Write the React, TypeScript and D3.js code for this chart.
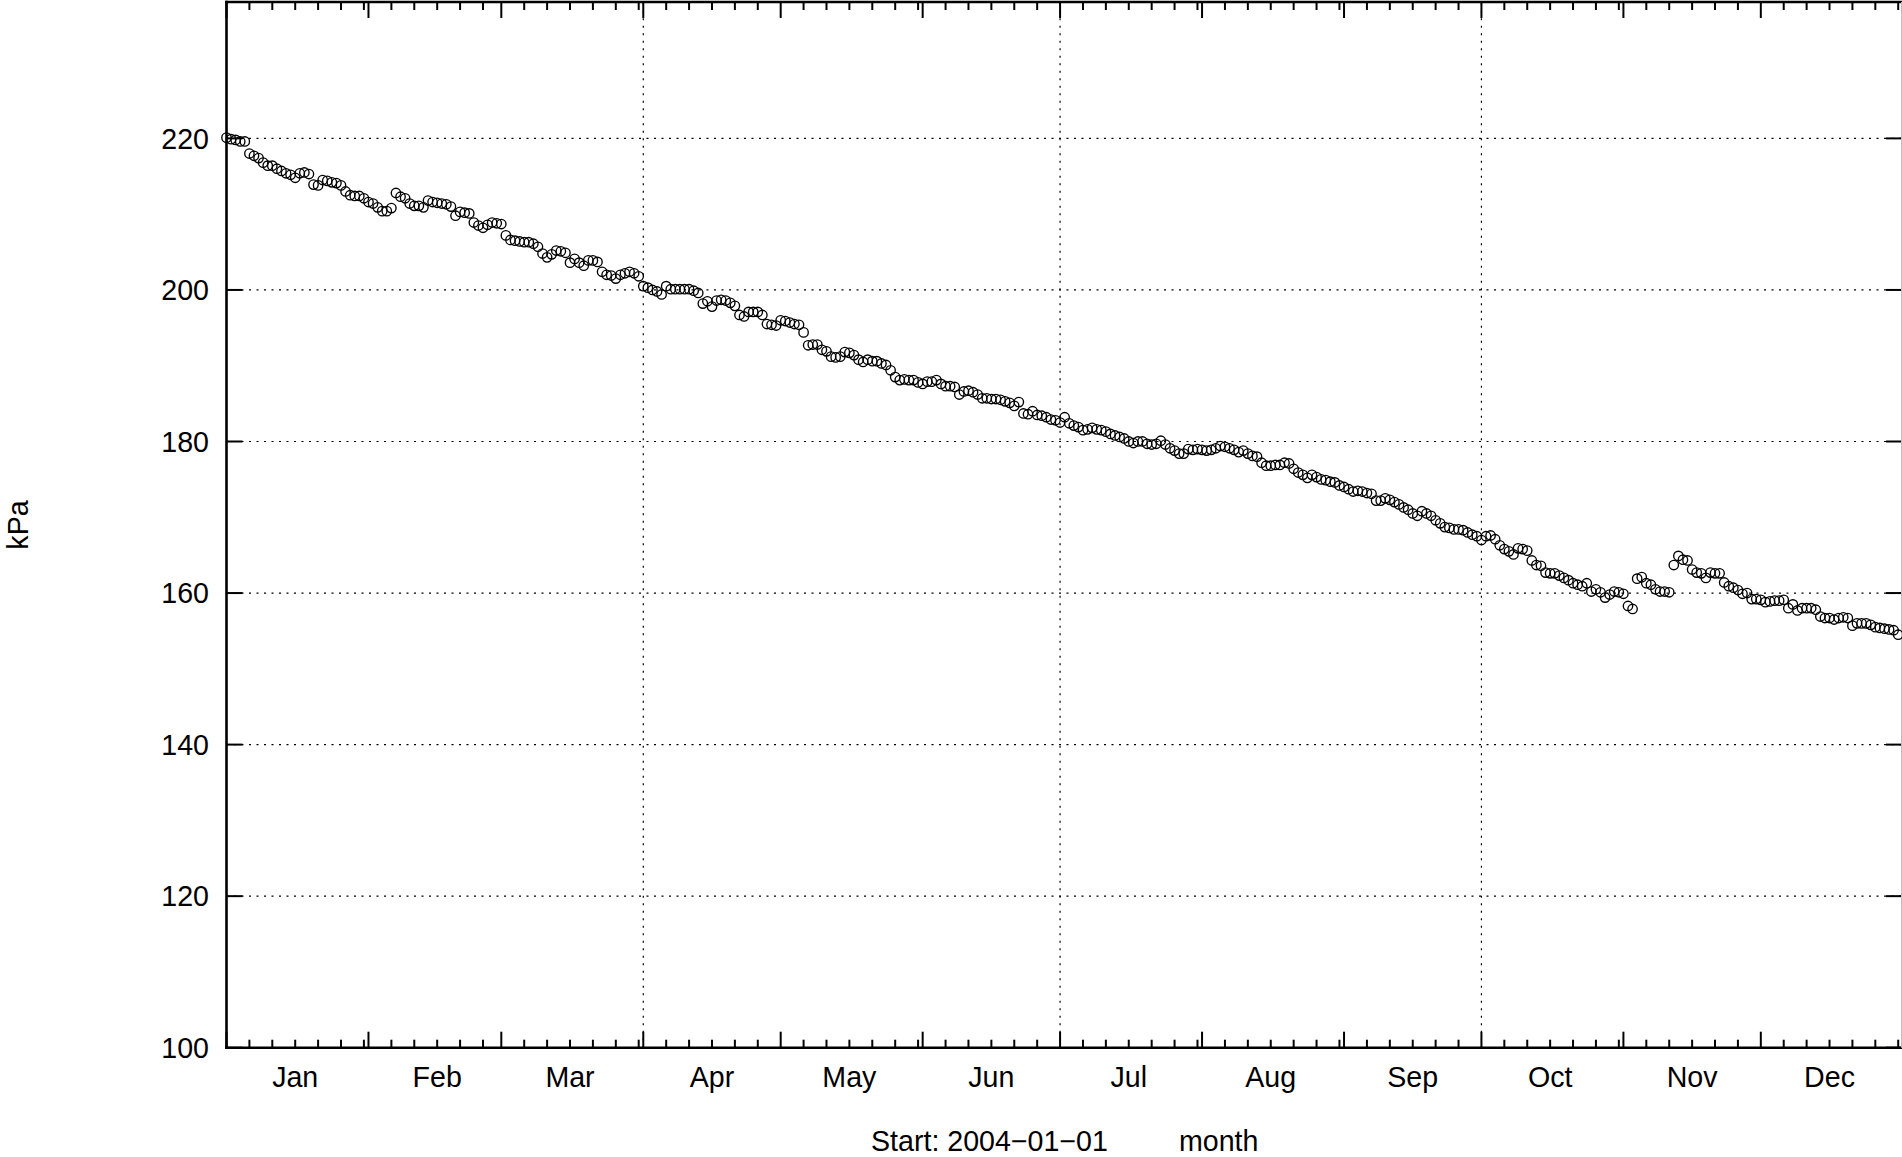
import React from 'react';
import * as d3 from 'd3';

const YEAR = 2004;
const monthNames = ['Jan', 'Feb', 'Mar', 'Apr', 'May', 'Jun', 'Jul', 'Aug', 'Sep', 'Oct', 'Nov', 'Dec'];
const yTicks = [100, 120, 140, 160, 180, 200, 220];
const gridMonths = [3, 6, 9];
const minorTickDays = [6, 11, 16, 21, 26, 31];
const yLabel = 'kPa';
const xTitle = 'Start: 2004\u221201\u221201';
const xUnit = 'month';

// daily values (kPa), one per day of each month
const janKPa = [220.1, 219.9, 219.8, 219.6, 219.6, 218.0, 217.7, 217.4, 216.8, 216.4, 216.4, 216.0, 215.7, 215.4, 215.2, 214.8, 215.4, 215.5, 215.3, 213.9, 213.8, 214.5, 214.4, 214.2, 214.1, 213.8, 213.0, 212.5, 212.4, 212.4, 212.1];
const febKPa = [211.6, 211.4, 210.9, 210.4, 210.4, 210.8, 212.8, 212.3, 212.1, 211.4, 211.1, 211.1, 210.9, 211.8, 211.6, 211.5, 211.4, 211.3, 211.0, 209.8, 210.3, 210.2, 210.1, 208.9, 208.5, 208.2, 208.6, 208.9, 208.8];
const marKPa = [208.7, 207.2, 206.6, 206.5, 206.4, 206.3, 206.3, 206.1, 205.7, 204.8, 204.3, 204.7, 205.2, 205.1, 204.9, 203.6, 204.1, 203.6, 203.2, 203.9, 203.9, 203.7, 202.4, 202.0, 201.9, 201.5, 202.0, 202.2, 202.4, 202.2, 201.8];
const aprKPa = [200.5, 200.3, 200.0, 199.8, 199.4, 200.5, 200.1, 200.1, 200.1, 200.1, 200.1, 199.9, 199.6, 198.2, 198.5, 197.8, 198.6, 198.7, 198.6, 198.3, 197.9, 196.7, 196.5, 197.1, 197.1, 197.1, 196.7, 195.5, 195.4, 195.3];
const mayKPa = [196.0, 195.9, 195.7, 195.5, 195.4, 194.4, 192.7, 192.8, 192.8, 192.1, 191.9, 191.2, 191.1, 191.2, 191.8, 191.7, 191.4, 190.8, 190.5, 190.8, 190.6, 190.6, 190.3, 190.1, 189.4, 188.5, 188.1, 188.2, 188.1, 188.1, 187.8];
const junKPa = [187.6, 187.9, 187.9, 188.1, 187.6, 187.3, 187.3, 187.2, 186.2, 186.6, 186.7, 186.5, 186.2, 185.7, 185.7, 185.6, 185.6, 185.5, 185.3, 185.1, 184.7, 185.2, 183.7, 183.6, 184.0, 183.5, 183.4, 183.2, 182.9, 182.8];
const julKPa = [182.5, 183.2, 182.4, 182.1, 181.9, 181.5, 181.6, 181.8, 181.6, 181.5, 181.3, 181.0, 180.8, 180.6, 180.4, 180.0, 179.8, 180.0, 180.0, 179.7, 179.6, 179.7, 180.1, 179.6, 179.1, 178.8, 178.4, 178.4, 179.0, 178.9, 179.0];
const augKPa = [178.9, 178.8, 178.9, 179.1, 179.4, 179.3, 179.1, 178.9, 178.6, 178.8, 178.4, 178.1, 178.0, 177.2, 176.8, 176.8, 176.9, 176.9, 177.2, 177.1, 176.4, 175.9, 175.6, 175.2, 175.6, 175.3, 175.0, 174.9, 174.7, 174.6, 174.2];
const sepKPa = [174.0, 173.7, 173.4, 173.5, 173.4, 173.2, 173.1, 172.2, 172.2, 172.5, 172.3, 172.0, 171.7, 171.3, 171.0, 170.5, 170.2, 170.8, 170.5, 170.2, 169.6, 169.2, 168.7, 168.6, 168.4, 168.4, 168.3, 168.0, 167.7, 167.5];
const octKPa = [167.0, 167.5, 167.6, 167.1, 166.3, 165.8, 165.5, 165.1, 165.9, 165.8, 165.6, 164.3, 163.7, 163.6, 162.7, 162.6, 162.6, 162.3, 162.0, 161.7, 161.3, 161.1, 160.9, 161.3, 160.2, 160.5, 160.1, 159.4, 159.8, 160.2, 160.1];
const novKPa = [159.9, 158.3, 157.9, 161.9, 162.1, 161.3, 161.1, 160.5, 160.2, 160.2, 160.1, 163.7, 164.9, 164.4, 164.3, 163.1, 162.7, 162.6, 162.0, 162.7, 162.6, 162.6, 161.4, 160.9, 160.7, 160.4, 159.9, 160.0, 159.2, 159.2];
const decKPa = [159.1, 158.8, 158.9, 159.0, 159.0, 159.1, 158.0, 158.5, 157.7, 158.0, 158.0, 158.0, 157.8, 156.9, 156.7, 156.7, 156.5, 156.7, 156.8, 156.7, 155.7, 156.0, 156.0, 156.0, 155.8, 155.5, 155.4, 155.3, 155.2, 155.1, 154.5];

const monthlyKPa = [janKPa, febKPa, marKPa, aprKPa, mayKPa, junKPa, julKPa, augKPa, sepKPa, octKPa, novKPa, decKPa];

const FONT = '"Liberation Sans", Arial, Helvetica, sans-serif';

export default function App() {
  const W = 1902;
  const H = 1157;
  const left = 226.5;
  const right = 1902.8;
  const top = 2;
  const bottom = 1047.7;

  const x = d3.scaleTime().domain([new Date(YEAR, 0, 1), new Date(YEAR + 1, 0, 1)]).range([left, right]);
  const y = d3.scaleLinear().domain([100, 238]).range([bottom, top]);

  const points = monthlyKPa.flatMap((arr, m) => arr.map((v, i) => ({ date: new Date(YEAR, m, i + 1), v })));
  const monthStarts = d3.timeMonth.range(new Date(YEAR, 0, 1), new Date(YEAR + 1, 0, 2));
  const minorTicks: Date[] = [];
  for (let m = 0; m < 12; m++) {
    const dim = new Date(YEAR, m + 1, 0).getDate();
    minorTickDays.forEach((d) => {
      if (d <= dim) minorTicks.push(new Date(YEAR, m, d));
    });
  }

  const majorLen = 16;
  const minorLen = 8;
  const tickW = 2;
  const fs = 28.6;

  return (
    <svg width={W} height={H} style={{ position: 'absolute', left: 0, top: 0, display: 'block', background: '#fff' }}>
      <rect x={0} y={0} width={W} height={H} fill="#fff" />
      {/* horizontal grid */}
      {yTicks.filter((t) => t > 100).map((t) => (
        <line key={'hg' + t} x1={left} x2={right} y1={y(t)} y2={y(t)} stroke="#000" strokeWidth={1.2} strokeDasharray="2,5.5" />
      ))}
      {/* vertical grid */}
      {gridMonths.map((m) => {
        const gx = x(new Date(YEAR, m, 1));
        return <line key={'vg' + m} x1={gx} x2={gx} y1={bottom} y2={top} stroke="#000" strokeWidth={1.2} strokeDasharray="2,5.5" />;
      })}
      {/* y ticks */}
      {yTicks.map((t) => (
        <g key={'yt' + t}>
          <line x1={left} x2={left + majorLen} y1={y(t)} y2={y(t)} stroke="#000" strokeWidth={tickW} />
          <line x1={1902} x2={1902 - majorLen} y1={y(t)} y2={y(t)} stroke="#000" strokeWidth={tickW} />
          <text x={209} y={y(t)} dy="0.36em" textAnchor="end" fontFamily={FONT} fontSize={fs} fill="#000">{t}</text>
        </g>
      ))}
      {/* x major ticks */}
      {monthStarts.map((d, i) => (
        <g key={'xm' + i}>
          <line x1={x(d)} x2={x(d)} y1={bottom} y2={bottom - majorLen} stroke="#000" strokeWidth={tickW} />
          <line x1={x(d)} x2={x(d)} y1={top} y2={top + majorLen} stroke="#000" strokeWidth={tickW} />
        </g>
      ))}
      {/* x minor ticks */}
      {minorTicks.map((d, i) => (
        <g key={'xn' + i}>
          <line x1={x(d)} x2={x(d)} y1={bottom} y2={bottom - minorLen} stroke="#000" strokeWidth={tickW} />
          <line x1={x(d)} x2={x(d)} y1={top} y2={top + minorLen} stroke="#000" strokeWidth={tickW} />
        </g>
      ))}
      {/* month labels */}
      {monthNames.map((name, m) => (
        <text key={'ml' + m} x={x(d3.timeDay.offset(new Date(YEAR, m, 1), 15))} y={1087} textAnchor="middle" fontFamily={FONT} fontSize={fs} fill="#000">{name}</text>
      ))}
      {/* frame */}
      <line x1={left} x2={left} y1={top - 1.2} y2={bottom + 1.3} stroke="#000" strokeWidth={2.6} />
      <line x1={left - 1.3} x2={W} y1={top} y2={top} stroke="#000" strokeWidth={2.4} />
      <line x1={left - 1.3} x2={W} y1={bottom} y2={bottom} stroke="#000" strokeWidth={2.6} />
      <line x1={1901.5} x2={1901.5} y1={top} y2={bottom} stroke="#bdbdbd" strokeWidth={1} />
      {/* data points */}
      {points.map((p, i) => (
        <circle key={'p' + i} cx={x(p.date)} cy={y(p.v)} r={4.7} fill="none" stroke="#000" strokeWidth={1.35} />
      ))}
      {/* axis titles */}
      <text x={871} y={1151} fontFamily={FONT} fontSize={fs} fill="#000">{xTitle}</text>
      <text x={1179} y={1151} fontFamily={FONT} fontSize={fs} fill="#000">{xUnit}</text>
      <text transform="translate(28,525) rotate(-90)" textAnchor="middle" fontFamily={FONT} fontSize={fs} fill="#000">{yLabel}</text>
    </svg>
  );
}
